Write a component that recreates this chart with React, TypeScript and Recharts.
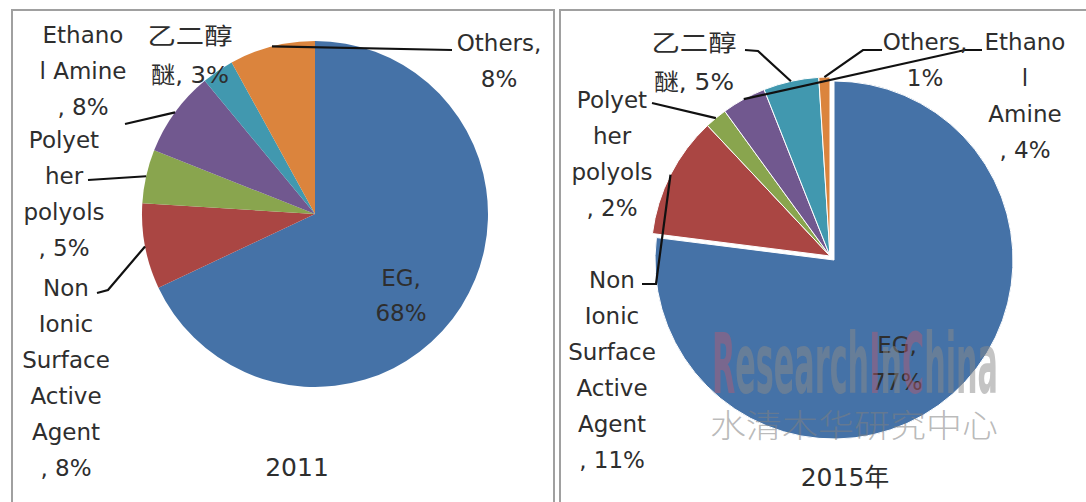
import React from 'react';
import { PieChart, Pie, Cell } from 'recharts';

// ---------- data ----------
const CATEGORIES = ['EG', 'Non Ionic Surface Active Agent', 'Polyether polyols', 'Ethanol Amine', '乙二醇醚', 'Others'];
const VALUES_2011 = [68, 8, 5, 8, 3, 8];
const VALUES_2015 = [77, 11, 2, 4, 5, 1];
// wrapped label text (value is appended to the last line)
const WRAP_2011 = [
  ['EG,', ''],
  ['Non', 'Ionic', 'Surface', 'Active', 'Agent', ', '],
  ['Polyet', 'her', 'polyols', ', '],
  ['Ethano', 'l Amine', ', '],
  ['乙二醇', '醚, '],
  ['Others,', ''],
];
const WRAP_2015 = [
  ['EG,', ''],
  ['Non', 'Ionic', 'Surface', 'Active', 'Agent', ', '],
  ['Polyet', 'her', 'polyols', ', '],
  ['Ethano', 'l', 'Amine', ', '],
  ['乙二醇', '醚, '],
  ['Others,', ''],
];
const TITLES = ['2011', '2015年'];
const WATERMARK_PARTS = [
  { t: 'R', red: true },
  { t: 'esearch', red: false },
  { t: 'I', red: true },
  { t: 'n', red: false },
  { t: 'C', red: true },
  { t: 'hina', red: false },
];
const WATERMARK_CN = '水清木华研究中心';

// ---------- style / layout ----------
const COLORS = ['#4572A7', '#AA4643', '#89A54E', '#71588F', '#4198AF', '#DB843D'];
const FONT = "'DejaVu Sans', 'Noto Sans CJK SC', sans-serif";
const TEXT_COLOR = '#2e2e2e';

type Layout = { x: number; y: number; gap: number; leader: number[][] | null; tl?: (number | undefined)[] };

const LAYOUT_2011: Layout[] = [
  { x: 401, y: 278, gap: 35, leader: null },
  { x: 66, y: 288, gap: 36, leader: [[97, 293], [108, 290]] },
  { x: 64, y: 140, gap: 36, leader: [[88, 180]] },
  { x: 83, y: 35, gap: 36, leader: [[125, 124]] },
  { x: 190, y: 36, gap: 39, leader: null, tl: [85, 78] },
  { x: 499, y: 43, gap: 36, leader: [[452, 50]] },
];
const LAYOUT_2015: Layout[] = [
  { x: 897, y: 345, gap: 37, leader: null },
  { x: 612, y: 280, gap: 36, leader: [[642, 284], [656, 284]] },
  { x: 612, y: 100, gap: 36, leader: [[652, 103]] },
  { x: 1025, y: 42, gap: 36, leader: [[982, 50], [965, 50]] },
  { x: 694, y: 43, gap: 39, leader: [[745, 50], [758, 51]], tl: [85, 80] },
  { x: 925, y: 42, gap: 36, leader: [[882, 50], [863, 50]] },
];

const data2011 = CATEGORIES.map((name, i) => ({ name, value: VALUES_2011[i] }));
const data2015 = CATEGORIES.map((name, i) => ({ name, value: VALUES_2015[i] }));

const RAD = Math.PI / 180;

function makeLabel(wrap: string[][], layout: Layout[], show: (i: number) => boolean) {
  return (props: any) => {
    const { cx, cy, midAngle, outerRadius, index, value } = props;
    if (!show(index)) return null;
    const lay = layout[index];
    const lines = wrap[index].slice();
    lines[lines.length - 1] = lines[lines.length - 1] + value + '%';
    const ax = cx + outerRadius * Math.cos(-midAngle * RAD);
    const ay = cy + outerRadius * Math.sin(-midAngle * RAD);
    const pts = lay.leader ? [...lay.leader, [ax, ay]] : null;
    return (
      <g key={`lbl-${index}`}>
        {pts && (
          <polyline
            points={pts.map((p) => p.join(',')).join(' ')}
            fill="none"
            stroke="#111"
            strokeWidth={2.2}
          />
        )}
        {lines.map((ln, k) => (
          <text
            key={k}
            x={lay.x}
            y={lay.y + k * lay.gap}
            textAnchor="middle"
            dominantBaseline="central"
            fontFamily={FONT}
            fontSize={23}
            fill={TEXT_COLOR}
            {...(lay.tl && lay.tl[k] ? { textLength: lay.tl[k], lengthAdjust: 'spacingAndGlyphs' } : {})}
          >
            {ln}
          </text>
        ))}
      </g>
    );
  };
}

export default function App() {
  return (
    <div
      style={{
        position: 'absolute',
        left: 0,
        top: 0,
        width: 1086,
        height: 502,
        background: '#fff',
        overflow: 'hidden',
      }}
    >
      {/* panel frames */}
      <div
        style={{
          position: 'absolute',
          left: 11,
          top: 9,
          width: 544,
          height: 600,
          border: '2px solid #a0a0a0',
          boxSizing: 'border-box',
        }}
      />
      <div
        style={{
          position: 'absolute',
          left: 559,
          top: 9,
          width: 700,
          height: 600,
          border: '2px solid #a0a0a0',
          boxSizing: 'border-box',
        }}
      />
      <div style={{ position: 'absolute', left: 0, top: 0 }}>
        <PieChart width={1086} height={502} margin={{ top: 0, right: 0, bottom: 0, left: 0 }}>
          <Pie
            data={data2011}
            dataKey="value"
            nameKey="name"
            cx={315}
            cy={214}
            outerRadius={173}
            startAngle={90}
            endAngle={-270}
            stroke="none"
            isAnimationActive={false}
            labelLine={false}
            label={makeLabel(WRAP_2011, LAYOUT_2011, () => true)}
          >
            {data2011.map((d, i) => (
              <Cell key={d.name} fill={COLORS[i]} />
            ))}
          </Pie>
          {/* 2015: EG slice pulled out slightly */}
          <Pie
            data={data2015}
            dataKey="value"
            nameKey="name"
            cx={834}
            cy={260}
            outerRadius={179}
            startAngle={90}
            endAngle={-270}
            isAnimationActive={false}
            labelLine={false}
            label={makeLabel(WRAP_2015, LAYOUT_2015, (i) => i === 0)}
          >
            {data2015.map((d, i) => (
              <Cell
                key={d.name}
                fill={i === 0 ? COLORS[i] : 'none'}
                stroke={i === 0 ? '#ffffff' : 'none'}
                strokeWidth={1}
              />
            ))}
          </Pie>
          <Pie
            data={data2015}
            dataKey="value"
            nameKey="name"
            cx={830}
            cy={256}
            outerRadius={179}
            startAngle={90}
            endAngle={-270}
            isAnimationActive={false}
            labelLine={false}
            label={makeLabel(WRAP_2015, LAYOUT_2015, (i) => i !== 0)}
          >
            {data2015.map((d, i) => (
              <Cell
                key={d.name}
                fill={i === 0 ? 'none' : COLORS[i]}
                stroke={i === 0 ? 'none' : '#ffffff'}
                strokeWidth={1}
              />
            ))}
          </Pie>
        </PieChart>
      </div>
      {/* titles and watermark */}
      <svg
        width={1086}
        height={502}
        style={{ position: 'absolute', left: 0, top: 0, pointerEvents: 'none' }}
      >
        <text x={297} y={467} textAnchor="middle" dominantBaseline="central" fontFamily={FONT} fontSize={25} fill={TEXT_COLOR}>
          {TITLES[0]}
        </text>
        <text x={845} y={477} textAnchor="middle" dominantBaseline="central" fontFamily={FONT} fontSize={25} fill={TEXT_COLOR}>
          {TITLES[1]}
        </text>
        <text
          x={712}
          y={393}
          textLength={286}
          lengthAdjust="spacingAndGlyphs"
          fontFamily="'DejaVu Sans'"
          fontWeight="bold"
          fontSize={84}
        >
          {WATERMARK_PARTS.map((p, i) => (
            <tspan key={i} fill={p.red ? '#b85a70' : '#8a8a8a'} fillOpacity={p.red ? 0.45 : 0.5}>
              {p.t}
            </tspan>
          ))}
        </text>
        <text
          x={710}
          y={437}
          textLength={288}
          lengthAdjust="spacingAndGlyphs"
          fontFamily="'Noto Sans CJK SC'"
          fontWeight={300}
          fontSize={32}
          fill="#808080"
          fillOpacity={0.55}
        >
          {WATERMARK_CN}
        </text>
      </svg>
    </div>
  );
}
